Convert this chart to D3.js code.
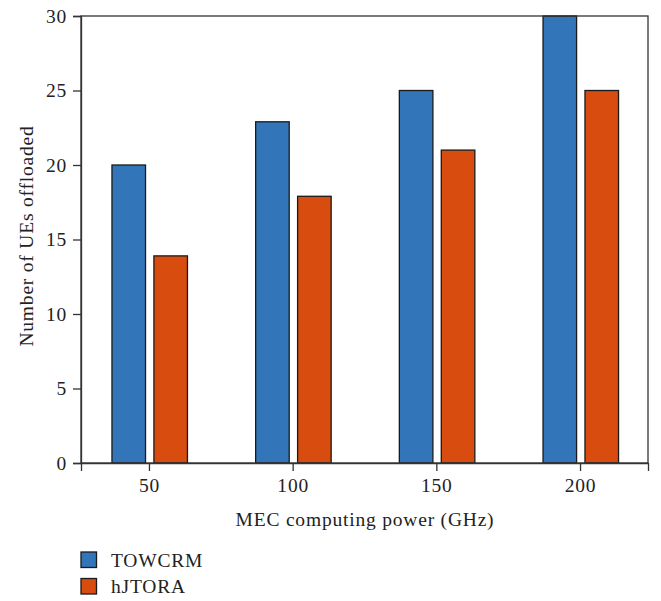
<!DOCTYPE html>
<html>
<head>
<meta charset="utf-8">
<script src="https://cdn.jsdelivr.net/npm/d3@7"></script>
<style>
  html, body { margin: 0; padding: 0; background: #fff; }
  svg { display: block; }
  text { font-family: "Liberation Serif", "DejaVu Serif", serif; fill: #222; letter-spacing: 0.8px; }
</style>
</head>
<body>
<svg id="chart" width="661" height="601"></svg>
<script>
// Offloaded UEs per MEC computing power level
const categories = ["50", "100", "150", "200"];
const seriesNames = ["TOWCRM", "hJTORA"];
const towcrm = [20, 22.9, 25, 30];
const hjtora = [13.9, 17.9, 21, 25];
const yTicks = [0, 5, 10, 15, 20, 25, 30];
const colors = ["#3276b9", "#d84c0f"];

(function () {
  const svg = d3.select("#chart");
  const pl = 81, pr = 648, pt = 16, pb = 463;
  const fs = 19.5;

  const x = d3.scalePoint().domain(categories).range([pl, pr]).padding(0.473);
  const xs = d3.scaleBand().domain(seriesNames).range([-37, 38.5]).paddingInner(0.2);
  const y = d3.scaleLinear().domain([0, 30]).range([pb, pt]);

  const rows = categories.map((c, i) => ({ c, vals: [towcrm[i], hjtora[i]] }));

  // bars
  const g = svg.append("g");
  rows.forEach(r => {
    r.vals.forEach((v, j) => {
      g.append("rect")
        .attr("x", x(r.c) + xs(seriesNames[j]))
        .attr("y", y(v))
        .attr("width", xs.bandwidth())
        .attr("height", y(0) - y(v))
        .attr("fill", colors[j])
        .attr("stroke", "#1a1a1a")
        .attr("stroke-width", 1.3);
    });
  });

  // frame
  svg.append("rect")
    .attr("x", pl).attr("y", pt)
    .attr("width", pr - pl).attr("height", pb - pt)
    .attr("fill", "none").attr("stroke", "#333").attr("stroke-width", 1.3);

  // axes
  const yAxis = svg.append("g")
    .attr("transform", `translate(${pl},0)`)
    .call(d3.axisLeft(y).tickValues(yTicks).tickSize(8).tickPadding(6));
  const xAxis = svg.append("g")
    .attr("transform", `translate(0,${pb})`)
    .call(d3.axisBottom(x).tickSize(8).tickPadding(7));
  [yAxis, xAxis].forEach(a => {
    a.select(".domain").attr("stroke", "#333").attr("stroke-width", 1.3);
    a.selectAll(".tick line").attr("stroke", "#333").attr("stroke-width", 1.3);
    a.selectAll(".tick text")
      .attr("font-family", "Liberation Serif, DejaVu Serif, serif")
      .attr("font-size", fs).attr("fill", "#222");
  });

  // axis titles
  svg.append("text")
    .attr("x", 365).attr("y", 526)
    .attr("text-anchor", "middle").attr("font-size", fs)
    .text("MEC computing power (GHz)");
  svg.append("text")
    .attr("transform", "translate(33,236) rotate(-90)")
    .attr("text-anchor", "middle").attr("font-size", fs)
    .text("Number of UEs offloaded");

  // legend
  const legend = svg.append("g").attr("transform", "translate(81,552)");
  seriesNames.forEach((name, i) => {
    const row = legend.append("g").attr("transform", `translate(0,${i * 26.5})`);
    row.append("rect").attr("width", 15.5).attr("height", 15.5)
      .attr("fill", colors[i]).attr("stroke", "#1a1a1a").attr("stroke-width", 1.3);
    row.append("text").attr("x", 30).attr("y", 14.5)
      .attr("font-size", fs).text(name);
  });
})();
</script>
</body>
</html>
